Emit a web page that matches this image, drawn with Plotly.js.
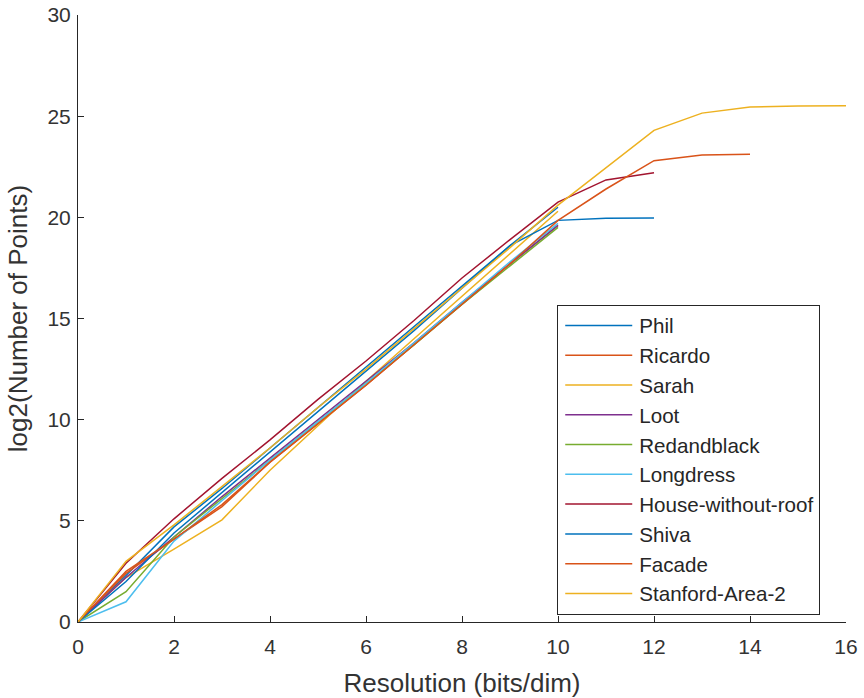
<!DOCTYPE html>
<html>
<head>
<meta charset="utf-8">
<script src="https://cdn.plot.ly/plotly-3.0.1.min.js"></script>
<style>html,body{margin:0;padding:0;background:#fff;}#chart{width:864px;height:698px;}</style>
</head>
<body>
<div id="chart"></div>
<script>
// Resolution values (bits/dim)
const res10 = [0,1,2,3,4,5,6,7,8,9,10];
const res12 = [0,1,2,3,4,5,6,7,8,9,10,11,12];
const res14 = [0,1,2,3,4,5,6,7,8,9,10,11,12,13,14];
const res16 = [0,1,2,3,4,5,6,7,8,9,10,11,12,13,14,15,16];

// log2(Number of Points) per dataset
const phil        = [0, 2.3, 4.7, 6.6, 8.6, 10.6, 12.6, 14.6, 16.6, 18.6, 20.5];
const ricardo     = [0, 2.4, 4.1, 5.7, 7.9, 9.8, 11.7, 13.7, 15.7, 17.7, 19.6];
const sarah       = [0, 2.2, 3.6, 5.05, 7.5, 9.7, 11.9, 14.0, 16.1, 18.2, 20.3];
const loot        = [0, 2.2, 4.2, 6.2, 8.1, 10.0, 11.9, 13.8, 15.8, 17.7, 19.6];
const redandblack = [0, 1.5, 4.2, 6.1, 8.0, 9.9, 11.8, 13.7, 15.7, 17.6, 19.5];
const longdress   = [0, 1.0, 4.0, 6.0, 8.0, 9.9, 11.8, 13.8, 15.8, 17.8, 19.7];
const house       = [0, 2.9, 5.1, 7.1, 9.0, 11.0, 12.9, 14.9, 17.0, 18.9, 20.75, 21.85, 22.2];
const shiva       = [0, 2.0, 4.4, 6.4, 8.4, 10.4, 12.4, 14.4, 16.5, 18.6, 19.85, 19.95, 19.97];
const facade      = [0, 2.5, 4.1, 5.8, 7.9, 9.8, 11.7, 13.7, 15.7, 17.7, 19.85, 21.4, 22.8, 23.08, 23.12];
const stanford    = [0, 3.0, 4.8, 6.7, 8.6, 10.6, 12.5, 14.5, 16.5, 18.5, 20.6, 22.45, 24.3, 25.15, 25.45, 25.5, 25.52];

const names  = ['Phil','Ricardo','Sarah','Loot','Redandblack','Longdress','House-without-roof','Shiva','Facade','Stanford-Area-2'];
const xsets  = [res10,res10,res10,res10,res10,res10,res12,res12,res14,res16];
const ysets  = [phil,ricardo,sarah,loot,redandblack,longdress,house,shiva,facade,stanford];
const colors = ['#0072BD','#D95319','#EDB120','#7E2F8E','#77AC30','#4DBEEE','#A2142F','#0072BD','#D95319','#EDB120'];

const traces = names.map((n,i)=>({
  x: xsets[i], y: ysets[i], name: n, type: 'scatter', mode: 'lines',
  line: {color: colors[i], width: 1.5}
}));

const FONT = 'Liberation Sans, Arial, sans-serif';
const axisCommon = {
  showgrid: false, zeroline: false, showline: true, linecolor: '#262626', linewidth: 1,
  ticks: 'inside', ticklen: 6, tickcolor: '#262626', mirror: false,
  tickfont: {family: FONT, size: 21, color: '#333333'}
};

const layout = {
  width: 864, height: 698,
  margin: {l: 78, r: 18, t: 15, b: 76},
  paper_bgcolor: '#fff', plot_bgcolor: '#fff',
  showlegend: true,
  xaxis: Object.assign({}, axisCommon, {
    range: [0, 16], tickvals: [0,2,4,6,8,10,12,14,16], ticklabelstandoff: 6,
    title: {text: 'Resolution (bits/dim)', font: {family: FONT, size: 26, color: '#333333'}, standoff: 16}
  }),
  yaxis: Object.assign({}, axisCommon, {
    range: [0, 30], tickvals: [0,5,10,15,20,25,30], ticklabelstandoff: 2,
    title: {text: 'log2(Number of Points)', font: {family: FONT, size: 26, color: '#333333'}, standoff: 12}
  }),
  legend: {
    x: 0.624, y: 0.523, xanchor: 'left', yanchor: 'top',
    bgcolor: '#fff', bordercolor: '#262626', borderwidth: 1,
    font: {family: FONT, size: 20.6, color: '#262626'},
    tracegroupgap: 0, itemwidth: 71
  }
};

Plotly.newPlot('chart', traces, layout, {displayModeBar: false, staticPlot: true}).then(gd => {
  // lengthen legend line samples like the MATLAB legend
  gd.querySelectorAll('.legend .legendlines path').forEach(p => p.setAttribute('d', 'M7,0h67'));
});
</script>
</body>
</html>
